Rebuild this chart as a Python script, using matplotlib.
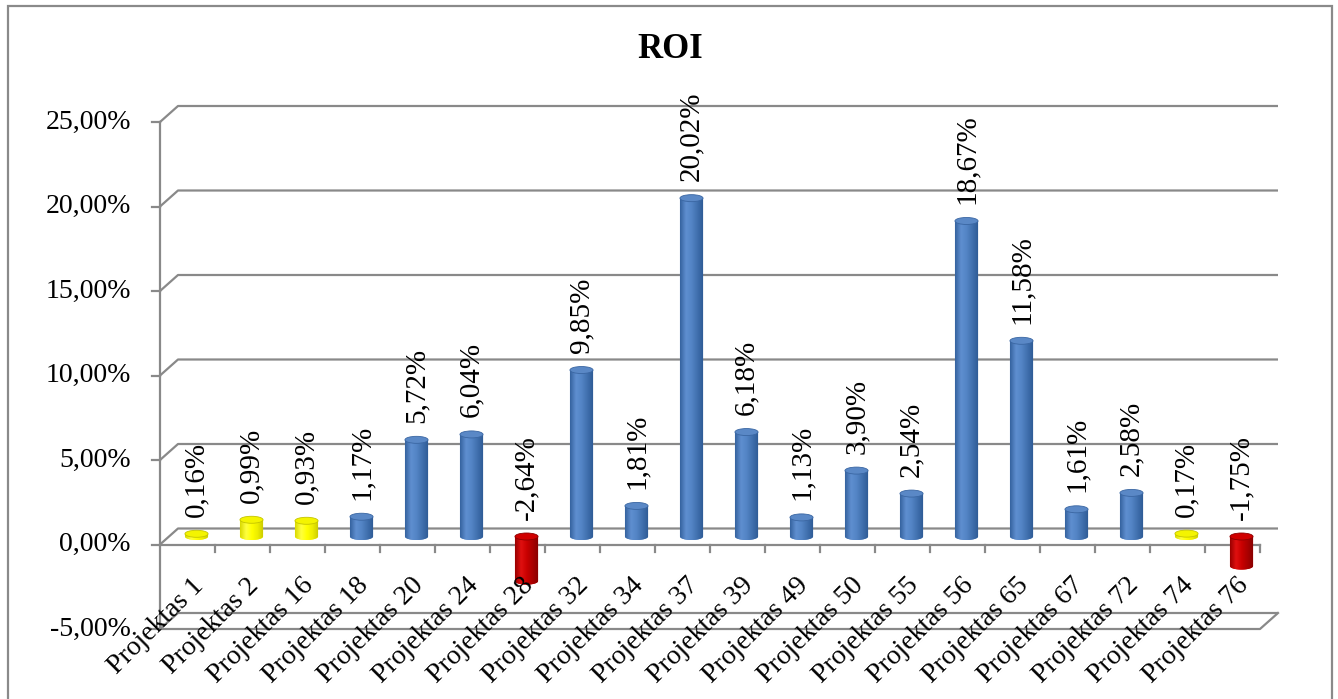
import numpy as np
import matplotlib
matplotlib.use('Agg')
import matplotlib.pyplot as plt
from matplotlib import transforms
from matplotlib.path import Path
from matplotlib.patches import PathPatch, Ellipse, Rectangle
from matplotlib.colors import LinearSegmentedColormap

plt.rcParams['font.family'] = ['Liberation Serif', 'DejaVu Serif']

# Data
projects = ['Projektas 1', 'Projektas 2', 'Projektas 16', 'Projektas 18', 'Projektas 20',
            'Projektas 24', 'Projektas 28', 'Projektas 32', 'Projektas 34', 'Projektas 37',
            'Projektas 39', 'Projektas 49', 'Projektas 50', 'Projektas 55', 'Projektas 56',
            'Projektas 65', 'Projektas 67', 'Projektas 72', 'Projektas 74', 'Projektas 76']
roi = [0.16, 0.99, 0.93, 1.17, 5.72, 6.04, -2.64, 9.85, 1.81, 20.02,
       6.18, 1.13, 3.90, 2.54, 18.67, 11.58, 1.61, 2.58, 0.17, -1.75]
y_ticks = [-5, 0, 5, 10, 15, 20, 25]

# cylinder styles: body gradient stops, cap face, cap edge
styles = {
    'blue': (['#35639f', '#5f8fd0', '#5283c4', '#3f6eac', '#2d5993'], '#5a88c6', '#3a66a2'),
    'yellow': (['#d9d900', '#ffff40', '#ffff00', '#ecec00', '#c8c800'], '#f4f400', '#c4c400'),
    'red': (['#9a0000', '#e01010', '#c80000', '#a80000', '#850000'], '#d00000', '#8c0000'),
}


def style_for(v):
    if v < 0:
        return 'red'
    if v < 1:
        return 'yellow'
    return 'blue'


W, H = 1338, 699
fig = plt.figure(figsize=(W / 100, H / 100), dpi=100)
ax = fig.add_axes([0, 0, 1, 1])
ax.set_axis_off()

# plot box in pixels: left wall at x=160, 55 px per category, 0% at y=544.5, 16.9 px per 1%
x0_px, step_px = 160, 55
zero_px, pct_px = 544.5, 16.9
n = len(projects)

# 3D depth of the walls (data units)
DX = 18 / step_px
DY = 16 / pct_px
grid_c = '#898989'
lw = 1.6

for t in y_ticks:
    ax.plot([0, DX, n + DX], [t, t + DY, t + DY], color=grid_c, lw=lw, solid_capstyle='butt')
    ax.plot([-0.15, 0], [t, t], color=grid_c, lw=lw)
    ax.text(-0.53, t, f'{t:.2f}%'.replace('.', ','), ha='right', va='center', fontsize=20)

ax.plot([0, 0], [-5, 25], color=grid_c, lw=lw)
# category axis at 0 with ticks
ax.plot([0, n], [0, 0], color=grid_c, lw=lw)
for i in range(1, n + 1):
    ax.plot([i, i], [0, -0.45], color=grid_c, lw=lw)
# floor front edge
ax.plot([0, n, n + DX], [-5, -5, -5 + DY], color=grid_c, lw=lw)

# cylinders sit halfway into the depth
bar_tr = ax.transData + transforms.ScaledTranslation(9 / 100, 8 / 100, fig.dpi_scale_trans)
lab_tr = ax.transData + transforms.ScaledTranslation(9 / 100, 25 / 100, fig.dpi_scale_trans)
bw = 0.42
eh = 7 / pct_px
grad = np.linspace(0, 1, 64).reshape(1, -1)
theta = np.linspace(np.pi, 2 * np.pi, 40)

for i, v in enumerate(roi):
    body, cap_face, cap_edge = styles[style_for(v)]
    cmap = LinearSegmentedColormap.from_list('cyl', body)
    xc = i + 0.5
    lo, hi = min(v, 0), max(v, 0)
    arc_x = xc + bw / 2 * np.cos(theta)
    arc_y = lo + eh / 2 * np.sin(theta)
    verts = [(xc - bw / 2, hi)] + list(zip(arc_x, arc_y)) + [(xc + bw / 2, hi), (xc - bw / 2, hi)]
    codes = [Path.MOVETO] + [Path.LINETO] * (len(verts) - 2) + [Path.CLOSEPOLY]
    patch = PathPatch(Path(verts, codes), transform=bar_tr, facecolor=body[2],
                      edgecolor='none', zorder=3)
    ax.add_patch(patch)
    im = ax.imshow(grad, cmap=cmap, extent=(xc - bw / 2, xc + bw / 2, lo - eh, hi),
                   transform=bar_tr, aspect='auto', interpolation='bilinear', zorder=3)
    im.set_clip_path(patch)
    ax.add_patch(Ellipse((xc, hi), bw, eh, transform=bar_tr, facecolor=cap_face,
                         edgecolor=cap_edge, lw=0.6, zorder=4))
    ax.text(xc, hi, f'{v:.2f}%'.replace('.', ','), rotation=90, ha='center', va='bottom',
            fontsize=21, transform=lab_tr, zorder=5)
    ax.text(xc + 0.06, -1.7, projects[i], rotation=45, rotation_mode='anchor',
            ha='right', va='top', fontsize=20, zorder=5)

ax.set_xlim(-x0_px / step_px, (W - x0_px) / step_px)
ax.set_ylim((zero_px - H) / pct_px, zero_px / pct_px)

fig.text(670 / W, 1 - 50 / H, 'ROI', ha='center', va='center', fontsize=25, fontweight='bold')

# chart border
fig.add_artist(Rectangle((8 / W, -0.1), 1324 / W, 1 - 6 / H + 0.1, transform=fig.transFigure,
                         fill=False, edgecolor='#8a8a8a', lw=1.6))

fig.savefig('out.png', dpi=100)
